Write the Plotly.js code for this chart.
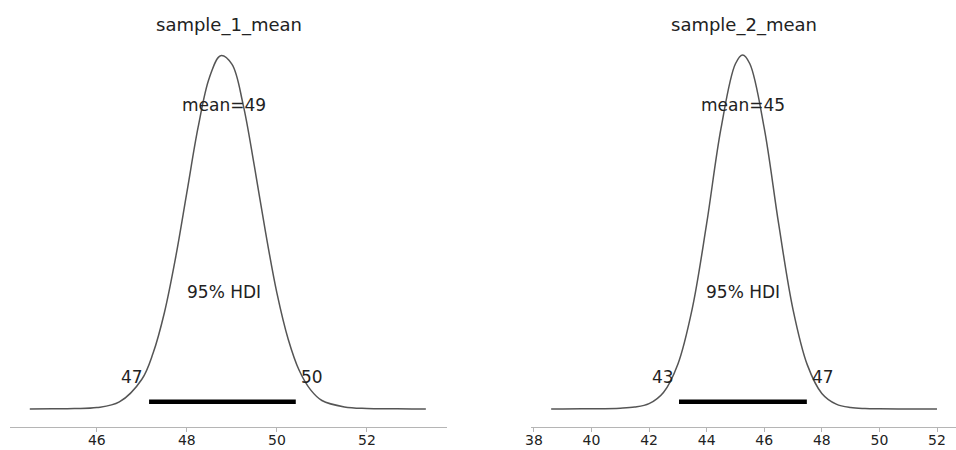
<!DOCTYPE html>
<html>
<head>
<meta charset="utf-8">
<script src="https://cdn.plot.ly/plotly-3.0.1.min.js"></script>
<style>html,body{margin:0;padding:0;background:#fff;}#chart{width:956px;height:450px;}</style>
</head>
<body>
<div id="chart"></div>
<script>
// Posterior density of sample_1_mean
const s1X = [44.51, 45.0, 45.5, 46.0, 46.5, 47.0, 47.25, 47.5, 47.75, 48.0, 48.25, 48.5, 48.75, 49.0, 49.25, 49.5, 49.75, 50.0, 50.25, 50.5, 50.75, 51.0, 51.5, 52.0, 52.5, 53.0, 53.31];
const s1Y = [0.0, 0.0002, 0.0006, 0.002, 0.010, 0.042, 0.079, 0.136, 0.214, 0.306, 0.398, 0.468, 0.499, 0.487, 0.430, 0.343, 0.249, 0.164, 0.099, 0.054, 0.027, 0.012, 0.003, 0.0008, 0.0003, 0.0001, 0.0];
// Posterior density of sample_2_mean
const s2X = [38.6, 39.0, 40.0, 41.0, 41.5, 42.0, 42.5, 43.0, 43.5, 44.0, 44.5, 45.0, 45.25, 45.5, 46.0, 46.5, 47.0, 47.5, 48.0, 48.5, 49.0, 49.5, 50.0, 51.0, 52.0, 52.35];
const s2Y = [0.0, 0.0001, 0.0003, 0.0009, 0.002, 0.0055, 0.017, 0.046, 0.103, 0.190, 0.288, 0.354, 0.363, 0.354, 0.288, 0.190, 0.102, 0.045, 0.016, 0.005, 0.0015, 0.0005, 0.0002, 0.0001, 0.0];

const titles = ["sample_1_mean", "sample_2_mean"];
const meanLabels = ["mean=49", "mean=45"];
const meanPos = [48.82, 45.27];
const hdiLow = [47.16, 43.04];
const hdiHigh = [50.42, 47.48];
const hdiLowLabel = ["47", "43"];
const hdiHighLabel = ["50", "47"];
const peaks = [0.5, 0.363];

const curveColor = "#555555";
const fontFam = "DejaVu Sans, Liberation Sans, sans-serif";

const traces = [
  {x: s1X, y: s1Y, xaxis: "x", yaxis: "y", mode: "lines", line: {color: curveColor, width: 1.5, shape: "spline", smoothing: 1}, hoverinfo: "skip"},
  {x: s2X, y: s2Y, xaxis: "x2", yaxis: "y2", mode: "lines", line: {color: curveColor, width: 1.5, shape: "spline", smoothing: 1}, hoverinfo: "skip"},
  {x: [hdiLow[0], hdiHigh[0]], y: [peaks[0]*0.0206, peaks[0]*0.0206], xaxis: "x", yaxis: "y", mode: "lines", line: {color: "#000", width: 4.5}, hoverinfo: "skip"},
  {x: [hdiLow[1], hdiHigh[1]], y: [peaks[1]*0.0206, peaks[1]*0.0206], xaxis: "x2", yaxis: "y2", mode: "lines", line: {color: "#000", width: 4.5}, hoverinfo: "skip"}
];

const txtFont = {family: fontFam, size: 17, color: "#222"};
const annotations = [];
const axN = ["", "2"];
const lowPos = [46.77, 42.47];
const highPos = [50.78, 48.04];
for (let i = 0; i < 2; i++) {
  const xr = "x" + axN[i], yr = "y" + axN[i];
  annotations.push({x: meanPos[i], y: peaks[i]*0.858, xref: xr, yref: yr, text: meanLabels[i], showarrow: false, font: txtFont});
  annotations.push({x: meanPos[i], y: peaks[i]*0.331, xref: xr, yref: yr, text: "95% HDI", showarrow: false, font: txtFont});
  annotations.push({x: lowPos[i], y: peaks[i]*0.09, xref: xr, yref: yr, text: hdiLowLabel[i], showarrow: false, font: txtFont});
  annotations.push({x: highPos[i], y: peaks[i]*0.09, xref: xr, yref: yr, text: hdiHighLabel[i], showarrow: false, font: txtFont});
}
const plotTop = 45, plotBot = 427;
const titleY = (plotBot - 25) / (plotBot - plotTop);
annotations.push({x: 228.5/956, y: titleY, xref: "paper", yref: "paper", xanchor: "center", yanchor: "middle", text: titles[0], showarrow: false, font: {family: fontFam, size: 18, color: "#222"}});
annotations.push({x: 743.5/956, y: titleY, xref: "paper", yref: "paper", xanchor: "center", yanchor: "middle", text: titles[1], showarrow: false, font: {family: fontFam, size: 18, color: "#222"}});

const xCommon = {showgrid: false, zeroline: false, showline: true, linecolor: "#b5b5b5", linewidth: 1, ticks: "outside", ticklen: 4, tickcolor: "#b5b5b5", dtick: 2, ticklabelstandoff: -4, tickfont: {family: fontFam, size: 14, color: "#222"}, fixedrange: true};
const yCommon = {visible: false, showgrid: false, zeroline: false, fixedrange: true};

const layout = {
  width: 956, height: 450,
  margin: {l: 0, r: 0, t: plotTop, b: 450 - plotBot},
  paper_bgcolor: "#fff", plot_bgcolor: "#fff",
  showlegend: false,
  xaxis: Object.assign({}, xCommon, {domain: [10/956, 447/956], range: [44.07, 53.78], anchor: "y", tick0: 46}),
  xaxis2: Object.assign({}, xCommon, {domain: [531/956, 1], range: [37.9, 52.66], anchor: "y2", tick0: 38}),
  yaxis: Object.assign({}, yCommon, {range: [-0.0508*peaks[0], 1.0282*peaks[0]], anchor: "x"}),
  yaxis2: Object.assign({}, yCommon, {range: [-0.0508*peaks[1], 1.0282*peaks[1]], anchor: "x2"}),
  annotations: annotations
};

Plotly.newPlot("chart", traces, layout, {staticPlot: true, displayModeBar: false});
</script>
</body>
</html>
